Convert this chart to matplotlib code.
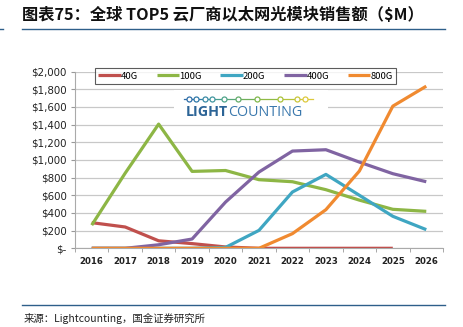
import matplotlib
matplotlib.use("Agg")
import matplotlib.pyplot as plt
from matplotlib.patches import Rectangle
from matplotlib.lines import Line2D

plt.rcParams['font.family'] = ['Noto Sans CJK SC', 'DejaVu Sans']

years = ["2016", "2017", "2018", "2019", "2020", "2021", "2022", "2023", "2024", "2025", "2026"]
series_names = ["40G", "100G", "200G", "400G", "800G"]
v40 = [290, 241, 85, 53, 15, 0, 0, 0, 0, 0, None]
v100 = [262, 850, 1405, 870, 880, 776, 753, 663, 545, 441, 418]
v200 = [0, 0, 0, 0, 10, 203, 637, 836, 600, 362, 211]
v400 = [0, 0, 40, 105, 523, 863, 1100, 1115, 975, 844, 753]
v800 = [0, 0, 0, 0, 0, 0, 166, 437, 874, 1608, 1834]
colors = ["#C0504D", "#8DB645", "#3FA6C2", "#8064A2", "#F08A30"]
yticks = [0, 200, 400, 600, 800, 1000, 1200, 1400, 1600, 1800, 2000]
ytick_labels = ["$-", "$200", "$400", "$600", "$800", "$1,000", "$1,200", "$1,400", "$1,600", "$1,800", "$2,000"]

W, H = 463, 327
fig = plt.figure(figsize=(W / 100, H / 100), dpi=100)

# axes: x 75..443, y 71.5..248.3
AX_L, AX_R, AX_T, AX_B = 75, 443, 71.5, 248.3
ax = fig.add_axes([AX_L / W, 1 - AX_B / H, (AX_R - AX_L) / W, (AX_B - AX_T) / H])
x = list(range(len(years)))
for vals, c, name in zip([v40, v100, v200, v400, v800], colors, series_names):
    xs = [i for i, v in zip(x, vals) if v is not None]
    ys = [v for v in vals if v is not None]
    ax.plot(xs, ys, color=c, lw=2.3, solid_capstyle='butt', label=name, zorder=3)

ax.set_xlim(-0.5, len(years) - 0.5)
ax.set_ylim(0, 2000)
ax.set_yticks(yticks)
ax.set_yticklabels(ytick_labels, fontsize=7.4, color="#222222", family=['DejaVu Sans'])
ax.set_xticks(x)
ax.set_xticklabels(years, fontsize=6.2, color="#222222", fontweight='bold', family=['DejaVu Sans'])
ax.set_xticks([i - 0.5 for i in range(len(years) + 1)], minor=True)
ax.tick_params(axis='x', which='major', length=0, pad=6)
ax.tick_params(axis='x', which='minor', length=3, color="#999999")
ax.tick_params(axis='y', length=3, color="#999999", pad=3)
ax.grid(axis='y', color="#C8C8C8", lw=0.9, zorder=0)
for s in ['top', 'right']:
    ax.spines[s].set_visible(False)
ax.spines['left'].set_color("#AAAAAA")
ax.spines['bottom'].set_color("#AAAAAA")

# legend (box 95..396 x 66..86 px)
aw, ah = AX_R - AX_L, AX_B - AX_T
leg = ax.legend(loc='center', bbox_to_anchor=((95 - AX_L) / aw, (AX_B - 86) / ah, (396 - 95) / aw, 20 / ah),
                mode='expand', ncol=5, fontsize=6.8, frameon=True, handlelength=2.4, handletextpad=0.0,
                borderpad=0.35, columnspacing=0.8, fancybox=False, borderaxespad=0)
leg.get_frame().set_edgecolor("#333333")
leg.get_frame().set_linewidth(0.8)
leg.set_zorder(5)

# LightCounting logo (white patch covering grid)
fig.patches.append(Rectangle((174 / W, 1 - 123 / H), 154 / W, 33 / H, transform=fig.transFigure,
                             facecolor='white', edgecolor='none', zorder=4))
dot_x = [189, 196, 205, 212, 224, 238, 257, 280, 297, 305]
dot_c = ["#2f6ea8", "#2f78a8", "#3a8aa5", "#4196a0", "#4fa48a", "#62ac6a", "#80b84c", "#a8c23a", "#c9c63a", "#ddc93c"]
seg_c = ["#2f6ea8", "#3380a8", "#3a90a3", "#48a090", "#58a878", "#70b05a", "#90bb45", "#b5c33a", "#d2c73b"]
fig.lines.append(Line2D([184 / W, 189 / W], [1 - 98.5 / H] * 2, transform=fig.transFigure,
                        color=dot_c[0], lw=0.9, zorder=5))
for i in range(len(dot_x) - 1):
    fig.lines.append(Line2D([dot_x[i] / W, dot_x[i + 1] / W], [1 - 98.5 / H] * 2, transform=fig.transFigure,
                            color=seg_c[i], lw=0.9, zorder=5))
fig.lines.append(Line2D([305 / W, 313 / W], [1 - 98.5 / H] * 2, transform=fig.transFigure,
                        color=dot_c[-1], lw=0.9, zorder=5))
for dx, dc in zip(dot_x, dot_c):
    fig.lines.append(Line2D([dx / W], [1 - 98.5 / H], transform=fig.transFigure, marker='o', ms=3.6,
                            mfc='white', mec=dc, mew=0.9, zorder=6))
t1 = fig.text(186 / W, 1 - 112 / H, "LIGHT", fontsize=10.3, fontweight='bold', color="#2c6496",
              va='center', ha='left', family=['Open Sans', 'DejaVu Sans'], zorder=6)
fig.canvas.draw()
bb = t1.get_window_extent()
fig.text(bb.x1 / W, 1 - 112 / H, "COUNTING", fontsize=10.3, color="#3a78ad",
         va='center', ha='left', family=['Open Sans', 'DejaVu Sans'], zorder=6)

# title
fig.text(22 / W, 1 - 15 / H, "图表75：全球 TOP5 云厂商以太网光模块销售额（$M）", fontsize=11.7,
         fontweight='bold', style='italic', color="#111111", va='center', ha='left')
fig.lines.append(Line2D([22 / W, 445 / W], [1 - 28.5 / H, 1 - 28.5 / H], transform=fig.transFigure,
                        color="#2e5f8a", lw=1.0))
fig.lines.append(Line2D([0, 3 / W], [1 - 28.5 / H, 1 - 28.5 / H], transform=fig.transFigure,
                        color="#2e5f8a", lw=1.0))
fig.lines.append(Line2D([22 / W, 445 / W], [1 - 305 / H, 1 - 305 / H], transform=fig.transFigure,
                        color="#2e5f8a", lw=1.0))
fig.text(24 / W, 1 - 318 / H, "来源：Lightcounting，国金证券研究所", fontsize=7.5, color="#222222",
         va='center', ha='left')

fig.savefig("out.png", dpi=100)
